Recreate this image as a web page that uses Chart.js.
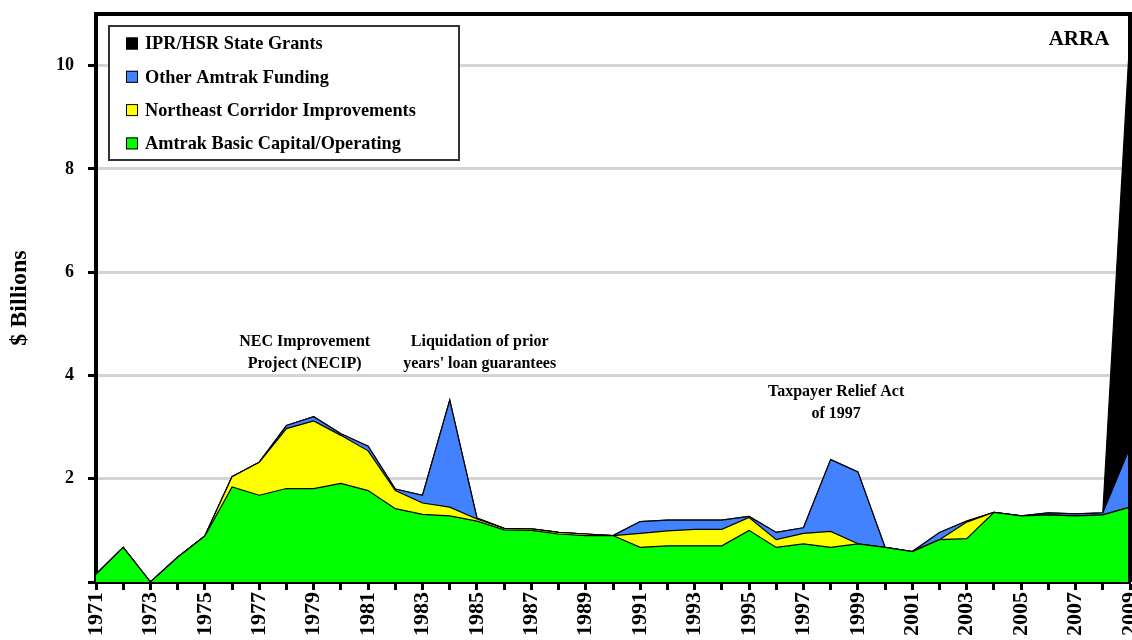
<!DOCTYPE html>
<html>
<head>
<meta charset="utf-8">
<script src="https://cdn.jsdelivr.net/npm/chart.js@4.4.1/dist/chart.umd.min.js"></script>
<style>
  html, body { margin: 0; padding: 0; background: #fff; }
  #wrap { width: 1132px; height: 640px; }
</style>
</head>
<body>
<div id="wrap"><canvas id="c" width="1132" height="640"></canvas></div>
<script>
const years = [1971,1972,1973,1974,1975,1976,1977,1978,1979,1980,1981,1982,1983,1984,1985,1986,1987,1988,1989,1990,1991,1992,1993,1994,1995,1996,1997,1998,1999,2000,2001,2002,2003,2004,2005,2006,2007,2008,2009];

const amtrakBasic = [0.15,0.67,0,0.48,0.89,1.84,1.68,1.81,1.81,1.91,1.77,1.42,1.31,1.28,1.18,1.01,1.00,0.93,0.90,0.90,0.67,0.70,0.70,0.70,1.00,0.67,0.74,0.67,0.74,0.67,0.59,0.82,0.84,1.35,1.28,1.30,1.28,1.30,1.45];
const necImprovements = [0,0,0,0,0,0.20,0.64,1.16,1.31,0.93,0.77,0.35,0.22,0.17,0.04,0.03,0.03,0.03,0.03,0,0.27,0.29,0.32,0.32,0.25,0.15,0.20,0.31,0,0,0,0,0.32,0,0,0,0,0,0];
const otherAmtrak = [0,0,0,0,0,0,0,0.06,0.08,0.03,0.09,0.03,0.15,2.07,0.02,0,0,0,0,0,0.23,0.21,0.18,0.18,0.02,0.14,0.11,1.39,1.39,0,0,0.14,0.02,0,0,0.04,0.04,0.04,1.16];
const iprHsrGrants = [0,0,0,0,0,0,0,0,0,0,0,0,0,0,0,0,0,0,0,0,0,0,0,0,0,0,0,0,0,0,0,0,0,0,0,0,0,0,8.0];

const seriesLabels = ["Amtrak Basic Capital/Operating","Northeast Corridor Improvements","Other Amtrak Funding","IPR/HSR State Grants"];
const seriesColors = ["#00ff00","#ffff00","#4282ff","#000000"];
const yTickValues = [2,4,6,8,10];

const notes = [
  { lines: ["NEC Improvement","Project (NECIP)"], year: 1978.67, value: 4.65 },
  { lines: ["Liquidation of prior","years' loan guarantees"], year: 1985.1, value: 4.65 },
  { lines: ["Taxpayer Relief Act","of 1997"], year: 1998.2, value: 3.68 }
];
const cornerNote = "ARRA";

const SERIF = '"Liberation Serif","Times New Roman",serif';

const seriesData = [amtrakBasic, necImprovements, otherAmtrak, iprHsrGrants];
const datasets = seriesData.map((d, i) => ({
  label: seriesLabels[i],
  data: d,
  backgroundColor: seriesColors[i],
  borderColor: "#000",
  borderWidth: 1.2,
  pointRadius: 0,
  tension: 0,
  fill: i === 0 ? "origin" : "-1"
}));

const decor = {
  id: "decor",
  afterDraw(chart) {
    const ctx = chart.ctx;
    const a = chart.chartArea;
    const xs = chart.scales.x, ys = chart.scales.y;
    ctx.save();
    ctx.strokeStyle = "#000";
    ctx.lineWidth = 4;
    ctx.beginPath();
    ctx.moveTo(a.left, a.top);
    ctx.lineTo(a.right, a.top);
    ctx.lineTo(a.right, a.bottom);
    ctx.stroke();
    ctx.fillStyle = "#000";
    ctx.textAlign = "center";
    ctx.textBaseline = "middle";
    ctx.font = "bold 16px " + SERIF;
    const px0 = xs.getPixelForValue(0), px1 = xs.getPixelForValue(1);
    const perYear = px1 - px0;
    notes.forEach(n => {
      const x = px0 + (n.year - years[0]) * perYear;
      const y = ys.getPixelForValue(n.value);
      n.lines.forEach((t, k) => ctx.fillText(t, x, y + k * 21.5));
    });
    ctx.font = "bold 21px " + SERIF;
    ctx.fillText(cornerNote, 1079, 40);
    const lx = 109, ly = 26, lw = 350, lh = 134;
    ctx.fillStyle = "#fff";
    ctx.fillRect(lx, ly, lw, lh);
    ctx.strokeStyle = "#333";
    ctx.lineWidth = 2;
    ctx.strokeRect(lx, ly, lw, lh);
    ctx.textAlign = "left";
    ctx.font = "bold 18.3px " + SERIF;
    const order = [3,2,1,0];
    order.forEach((di, r) => {
      const ds = chart.data.datasets[di];
      const cy = 43.5 + r * 33.3;
      ctx.fillStyle = ds.backgroundColor;
      ctx.fillRect(126, cy - 6, 12, 12);
      ctx.strokeStyle = "#000";
      ctx.lineWidth = 1;
      ctx.strokeRect(126.5, cy - 5.5, 11, 11);
      ctx.fillStyle = "#000";
      ctx.fillText(ds.label, 145, cy + 1);
    });
    ctx.restore();
  }
};

new Chart(document.getElementById("c"), {
  type: "line",
  data: { labels: years.map(String), datasets },
  options: {
    responsive: false,
    animation: false,
    layout: { padding: { top: 14, right: 2, left: 0, bottom: 0 } },
    plugins: { legend: { display: false }, tooltip: { enabled: false } },
    scales: {
      x: {
        offset: false,
        grid: { display: true, drawOnChartArea: false, drawTicks: true, tickLength: 8, tickColor: "#000", tickWidth: 3, color: "#000" },
        border: { display: true, color: "#000", width: 4 },
        ticks: {
          autoSkip: false, minRotation: 90, maxRotation: 90, padding: 2,
          color: "#000", font: { family: SERIF, size: 22, weight: "bold" },
          callback: (v, i) => (years[i] % 2 === 1 ? String(years[i]) : "")
        },
        afterFit: s => { s.height = 58; s.paddingLeft = 0; s.paddingRight = 0; }
      },
      y: {
        stacked: true,
        min: 0, max: 11,
        grid: { color: "#d4d4d4", lineWidth: 3, drawTicks: true, tickLength: 8, tickColor: "#000", tickWidth: 3 },
        border: { display: true, color: "#000", width: 4 },
        ticks: {
          stepSize: 2, includeBounds: false, padding: 14,
          color: "#000", font: { family: SERIF, size: 18, weight: "bold" },
          callback: v => (yTickValues.includes(v) ? String(v) : "")
        },
        title: { display: true, text: "$ Billions", color: "#000", padding: { top: 5, bottom: 0 }, font: { family: SERIF, size: 24, weight: "bold" } },
        afterFit: s => { s.width = 96; s.paddingTop = 0; s.paddingBottom = 0; }
      }
    }
  },
  plugins: [decor]
});
</script>
</body>
</html>
